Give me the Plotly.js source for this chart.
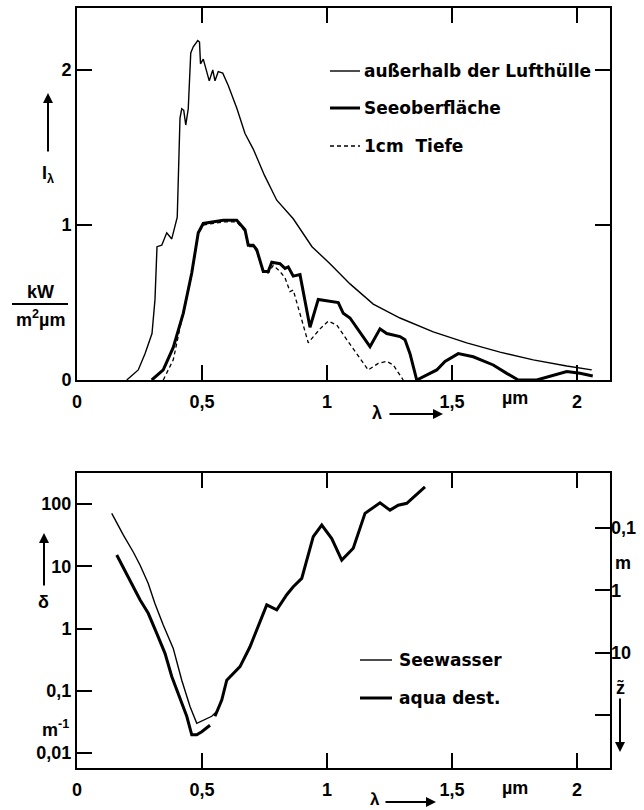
<!DOCTYPE html>
<html>
<head>
<meta charset="utf-8">
<script src="https://cdn.plot.ly/plotly-3.0.1.min.js"></script>
<style>html,body{margin:0;padding:0;background:#fff}#chart{width:644px;height:810px}</style>
</head>
<body>
<div id="chart"></div>
<script>
// ---- Top chart: spectral irradiance I_lambda (kW / m^2 um) vs wavelength (um)
const lamOutside = [0.199,0.245,0.272,0.300,0.312,0.320,0.339,0.359,0.379,0.392,0.401,0.412,0.419,0.427,0.435,0.445,0.455,0.465,0.483,0.490,0.494,0.505,0.529,0.543,0.552,0.565,0.583,0.605,0.640,0.672,0.705,0.750,0.799,0.865,0.940,1.012,1.092,1.185,1.292,1.425,1.559,1.692,1.825,1.959,2.059];
const irrOutside = [0,0.065,0.17,0.30,0.52,0.86,0.87,0.95,0.91,0.99,1.05,1.69,1.75,1.74,1.645,1.75,2.11,2.15,2.19,2.18,2.04,2.07,1.93,2.00,1.93,1.99,1.98,1.90,1.75,1.59,1.49,1.32,1.16,1.04,0.86,0.75,0.62,0.49,0.40,0.31,0.24,0.18,0.13,0.09,0.065];

const lamSurface = [0.299,0.345,0.385,0.425,0.459,0.485,0.505,0.545,0.585,0.639,0.659,0.672,0.685,0.705,0.719,0.745,0.765,0.779,0.812,0.832,0.845,0.865,0.892,0.932,0.965,1.012,1.045,1.065,1.092,1.172,1.212,1.239,1.292,1.312,1.332,1.359,1.439,1.472,1.525,1.585,1.665,1.719,1.765,1.839,1.905,1.959,2.012,2.063];
const irrSurface = [0,0.065,0.21,0.43,0.69,0.95,1.01,1.02,1.03,1.03,0.99,0.97,0.87,0.87,0.84,0.70,0.70,0.76,0.75,0.72,0.73,0.67,0.68,0.34,0.52,0.51,0.50,0.43,0.40,0.215,0.33,0.30,0.28,0.26,0.17,0.0,0.065,0.12,0.17,0.15,0.097,0.043,0.0,0.0,0.03,0.054,0.043,0.026];

const lamDepth1cm = [0.345,0.385,0.419,0.425,0.459,0.485,0.505,0.545,0.585,0.639,0.659,0.672,0.685,0.705,0.719,0.745,0.765,0.785,0.812,0.832,0.852,0.865,0.925,0.972,1.005,1.039,1.079,1.165,1.205,1.239,1.265,1.299,1.305];
const irrDepth1cm = [0,0.13,0.39,0.42,0.68,0.94,1.0,1.01,1.02,1.02,0.98,0.96,0.86,0.86,0.83,0.70,0.69,0.74,0.70,0.66,0.57,0.58,0.24,0.33,0.38,0.355,0.26,0.065,0.107,0.12,0.097,0.01,0];

// ---- Bottom chart: extinction coefficient delta (1/m) vs wavelength
const lamSeawater = [0.139,0.159,0.185,0.225,0.252,0.285,0.312,0.345,0.385,0.419,0.452,0.479,0.505,0.539,0.565];
const deltaSeawater = [71,49,32,17,10.5,5.3,2.5,1.14,0.48,0.148,0.056,0.030,0.034,0.039,0.049];

const lamAqua = [0.159,0.192,0.225,0.252,0.285,0.319,0.352,0.379,0.412,0.439,0.459,0.479,0.499,0.532,0.542,0.552,0.579,0.599,0.625,0.652,0.692,0.725,0.759,0.799,0.839,0.865,0.899,0.945,0.979,1.019,1.059,1.105,1.152,1.212,1.252,1.285,1.319,1.392];
const deltaAqua = [15.2,8.7,4.7,2.9,1.76,0.84,0.40,0.17,0.076,0.039,0.0196,0.0196,0.022,0.028,null,0.039,0.071,0.148,0.19,0.245,0.51,1.07,2.4,2.0,3.5,4.7,6.4,30,46,28,12.6,19.5,71,105,80,96,103,190];

// tick labels
const xTickVals = [0,0.5,1,1.5,2];
const xTickText = ["0","0,5","1","1,5","2"];
const irrTickVals = [0,1,2];
const irrTickText = ["0","1","2"];
const deltaTickVals = [0.01,0.1,1,10,100];
const deltaTickText = ["0,01","0,1","1","10","100"];
const depthTickVals = [0.1,1,10,100];
const depthTickText = ["0,1","1","10",""];

// ---- geometry helpers (pixel -> paper)
const L = 77, R = 34, T = 8, B = 42, W = 644, H = 810;
const PW = W - L - R, PH = H - T - B;
const px = x => (x - L) / PW;
const py = y => (H - B - y) / PH;

const FONT = 'Liberation Sans, Arial, sans-serif';
const LFONT = 'DejaVu Sans, sans-serif';
const tickFont = {family: FONT, size: 18, color: '#000', weight: 700};
const lblFont = {family: LFONT, size: 17, color: '#000', weight: 700};
const TL = 15;

const axisCommon = {
  showline: true, linewidth: 2, linecolor: '#000', mirror: 'ticks',
  ticks: 'inside', ticklen: TL, tickwidth: 2, tickcolor: '#000',
  showgrid: false, zeroline: false, tickfont: tickFont, fixedrange: true
};

const XR = [0, 2.132], IR = [0, 2.4], DR = [-2.24, 2.5], ZR = [2.852, -1.883];

const traces = [
  {x: lamOutside, y: irrOutside, xaxis: 'x', yaxis: 'y', mode: 'lines', name: 'außerhalb der Lufthülle',
   line: {color: '#000', width: 1.4}},
  {x: lamSurface, y: irrSurface, xaxis: 'x', yaxis: 'y', mode: 'lines', name: 'Seeoberfläche',
   line: {color: '#000', width: 3}},
  {x: lamDepth1cm, y: irrDepth1cm, xaxis: 'x', yaxis: 'y', mode: 'lines', name: '1cm Tiefe',
   line: {color: '#000', width: 1.3, dash: '4px,3px'}},
  {x: lamSeawater, y: deltaSeawater, xaxis: 'x2', yaxis: 'y2', mode: 'lines', name: 'Seewasser',
   line: {color: '#000', width: 1.4}},
  {x: lamAqua, y: deltaAqua, xaxis: 'x2', yaxis: 'y2', mode: 'lines', name: 'aqua dest.',
   line: {color: '#000', width: 3}},
  // empty trace so the right-hand depth axis (z~) is created and drawn
  {x: [null], y: [null], xaxis: 'x2', yaxis: 'y3', mode: 'lines', hoverinfo: 'skip'}
];

const topBottomPx = 380, topTopPx = 8, botTopPx = 473, botBottomPx = 768;
const topBottom = py(topBottomPx), botTop = py(botTopPx);

function txt(text, x, y, xanchor, size, fam) {
  return {text: text, x: px(x), y: py(y), xref: 'paper', yref: 'paper', showarrow: false,
          xanchor: xanchor || 'center', yanchor: 'middle',
          font: Object.assign({}, lblFont, size ? {size: size} : {}, fam ? {family: fam} : {})};
}
function arrow(x0, y0, x1, y1) { // tail (x0,y0) -> head (x1,y1)
  return {text: '', x: px(x1), y: py(y1), xref: 'paper', yref: 'paper', showarrow: true,
          ax: x0 - x1, ay: y0 - y1, axref: 'pixel', ayref: 'pixel',
          arrowhead: 2, arrowsize: 1, arrowwidth: 2, arrowcolor: '#000'};
}
function seg(x0, y0, x1, y1, width, dash) {
  return {type: 'line', xref: 'paper', yref: 'paper', x0: px(x0), y0: py(y0), x1: px(x1), y1: py(y1),
          line: {color: '#000', width: width, dash: dash || 'solid'}};
}
// inward x-tick marks on the frame edges, placed through the x axes at the tick values
function xTickMarks(xref, edgePx, dir) {
  return xTickVals.slice(1).map(v => ({type: 'line', xref: xref, yref: 'paper', x0: v, x1: v,
    y0: py(edgePx), y1: py(edgePx + dir * TL), line: {color: '#000', width: 2}}));
}

const layout = {
  width: W, height: H, margin: {l: L, r: R, t: T, b: B, pad: 0},
  paper_bgcolor: '#fff', plot_bgcolor: '#fff', showlegend: false,
  xaxis: Object.assign({}, axisCommon, {domain: [0, 1], anchor: 'y', range: XR,
          tickvals: xTickVals, ticktext: xTickText, ticklabelstandoff: 4}),
  yaxis: Object.assign({}, axisCommon, {domain: [topBottom, 1], anchor: 'x', range: IR,
          tickvals: irrTickVals, ticktext: irrTickText}),
  xaxis2: Object.assign({}, axisCommon, {domain: [0, 1], anchor: 'y2', range: XR,
          tickvals: xTickVals, ticktext: xTickText, ticklabelstandoff: 4}),
  yaxis2: Object.assign({}, axisCommon, {domain: [0, botTop], anchor: 'x2', type: 'log', mirror: true,
          range: DR, tickvals: deltaTickVals, ticktext: deltaTickText}),
  yaxis3: Object.assign({}, axisCommon, {overlaying: 'y2', anchor: 'x2', side: 'right', showline: false,
          mirror: false, type: 'log', range: ZR, tickvals: depthTickVals, ticktext: depthTickText}),
  shapes: [].concat(
    xTickMarks('x', topBottomPx, -1), xTickMarks('x', topTopPx, 1),
    xTickMarks('x2', botBottomPx, -1), xTickMarks('x2', botTopPx, 1),
    [
      // legend samples top
      seg(330, 71, 360, 71, 1.4), seg(330, 108, 360, 108, 3), seg(330, 146, 360, 146, 1.3, '4px,3px'),
      // legend samples bottom
      seg(360, 660, 392, 660, 1.4), seg(360, 698, 392, 698, 3),
      // unit fraction bar
      seg(12, 304, 68, 304, 2)
    ]),
  annotations: [
    txt('außerhalb der Lufthülle', 362, 71, 'left'),
    txt('Seeoberfläche', 362, 108, 'left'),
    txt('1cm  Tiefe', 362, 146, 'left'),
    txt('Seewasser', 397, 660, 'left'),
    txt('aqua dest.', 397, 698, 'left'),
    txt('I<sub>λ</sub>', 48, 175, 'center', 18, FONT),
    arrow(48, 153, 48, 93),
    txt('kW', 40, 292, 'center', 18, FONT),
    txt('m<sup>2</sup>µm', 40, 318, 'center', 18, FONT),
    txt('µm', 515, 398, 'center', 18, FONT),
    txt('λ', 377, 413, 'center', 18, FONT),
    arrow(388, 414, 443, 414),
    txt('µm', 515, 788, 'center', 18, FONT),
    txt('λ', 375, 800, 'center', 17, FONT),
    arrow(384, 802, 436, 802),
    txt('δ', 43, 602, 'center', 18, FONT),
    arrow(44, 587, 44, 533),
    txt('m<sup>-1</sup>', 71, 728, 'right', 18, FONT),
    txt('m', 613, 563, 'left', 18, FONT),
    txt('z̃', 614, 688, 'left', 18, FONT),
    arrow(620, 697, 620, 752)
  ]
};

Plotly.newPlot('chart', traces, layout, {staticPlot: true, displayModeBar: false});
</script>
</body>
</html>
